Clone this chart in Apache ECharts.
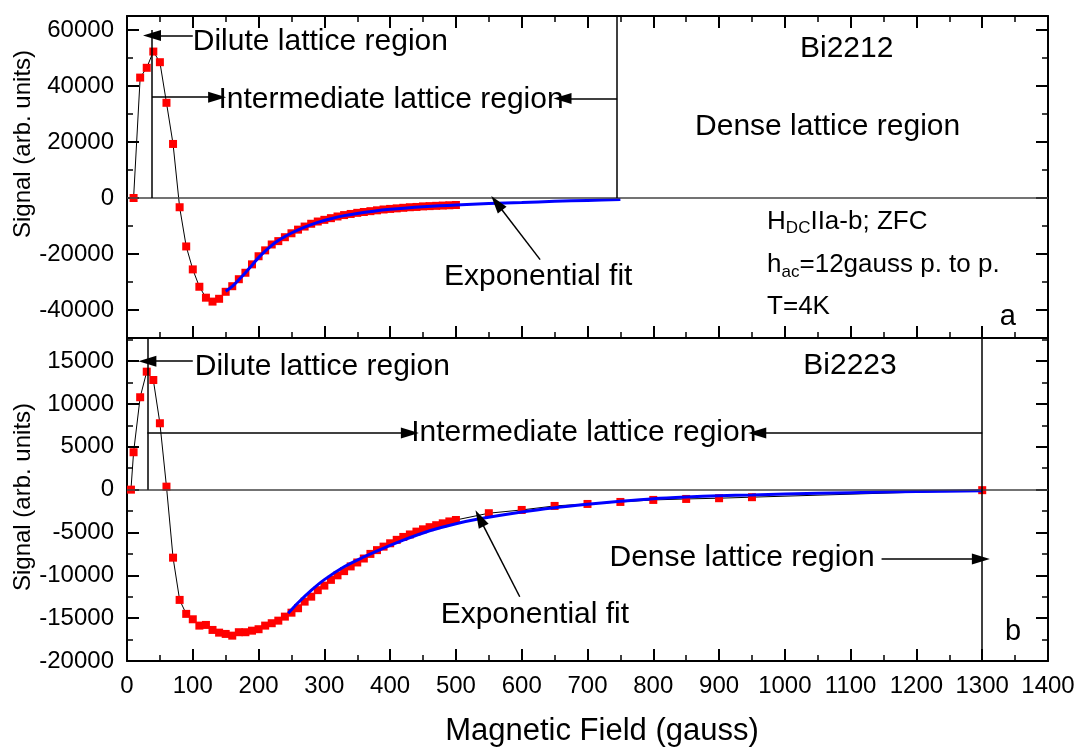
<!DOCTYPE html>
<html><head><meta charset="utf-8">
<script src="https://cdn.jsdelivr.net/npm/echarts@6/dist/echarts.min.js"></script>
<style>html,body{margin:0;padding:0;background:#fff}#c{width:1080px;height:748px}</style>
</head><body><div id="c"></div>
<script>
const FONT = '"Liberation Sans", Arial, Helvetica, sans-serif';

// ---- Panel a: Bi2212 ----
const fieldA = [10,20,30,40,50,60,70,80,90,100,110,120,130,140,150,160,170,180,190,200,210,220,230,240,250,260,270,280,290,300,310,320,330,340,350,360,370,380,390,400,410,420,430,440,450,460,470,480,490,500];
const signalA = [0,43000,46500,52300,48500,34000,19300,-3300,-17300,-25500,-31700,-35600,-37000,-36000,-33500,-31500,-29000,-26700,-23700,-20800,-18700,-16600,-15400,-14000,-12600,-11300,-10200,-9200,-8400,-7800,-7200,-6600,-6100,-5700,-5300,-5000,-4700,-4400,-4100,-3900,-3700,-3500,-3300,-3200,-3000,-2900,-2800,-2700,-2600,-2500];
const fitFieldA = [150,160,170,180,190,200,210,220,230,240,250,270,290,310,330,350,375,400,425,450,475,500,550,600,650,700,750];
const fitSignalA = [-33300,-31600,-29200,-26700,-24000,-21300,-19000,-16900,-15200,-13800,-12500,-10400,-8700,-7400,-6300,-5500,-4700,-4050,-3550,-3150,-2800,-2500,-2000,-1600,-1200,-850,-500];

// ---- Panel b: Bi2223 ----
const fieldB = [6,10,20,30,40,50,60,70,80,90,100,110,120,130,140,150,160,170,180,190,200,210,220,230,240,250,260,270,280,290,300,310,320,330,340,350,360,370,380,390,400,410,420,430,440,450,460,470,480,490,500,550,600,650,700,750,800,850,900,950,1300];
const signalB = [0,4365,10785,13770,12800,7750,350,-7940,-12870,-14500,-15130,-15870,-15790,-16375,-16690,-16840,-17040,-16640,-16640,-16460,-16290,-15870,-15590,-15290,-14820,-14360,-13840,-13070,-12490,-11730,-11200,-10530,-10000,-9510,-8960,-8500,-8040,-7500,-7060,-6650,-6260,-5860,-5520,-5230,-4900,-4630,-4380,-4150,-3930,-3710,-3540,-2750,-2370,-1900,-1670,-1435,-1200,-1085,-1000,-880,-60];
const fitFieldB = [245,260,280,300,330,360,385,420,460,500,536,600,650,700,750,800,850,900,950,1000,1100,1200,1300];
const fitSignalB = [-14430,-13200,-11750,-10500,-9000,-7850,-7000,-5900,-4800,-3980,-3400,-2600,-2100,-1700,-1350,-1050,-860,-720,-620,-520,-350,-220,-120];

// ---- tick labels ----
const xTicks = [0,100,200,300,400,500,600,700,800,900,1000,1100,1200,1300,1400];
const yTicksA = [-40000,-20000,0,20000,40000,60000];
const yTicksB = [-20000,-15000,-10000,-5000,0,5000,10000,15000];

const zip = (a, b) => a.map((v, i) => [v, b[i]]);
const plain = (v) => String(v);

const chart = echarts.init(document.getElementById('c'), null, {renderer: 'canvas'});

const black = '#000';
function xAxis(grid, pos, showLabels, showTicks) {
  return {
    type: 'value', gridIndex: grid, position: pos, min: 0, max: 1400, interval: 100,
    axisLine: {show: true, onZero: false, lineStyle: {color: black, width: 2}},
    axisTick: {show: showTicks, inside: true, length: 12, lineStyle: {color: black, width: 2}},
    minorTick: {show: showTicks, splitNumber: 2, length: 6, lineStyle: {color: black, width: 1.5}},
    axisLabel: {show: showLabels, customValues: xTicks, formatter: plain, fontFamily: FONT, fontSize: 24, color: black, margin: 13},
    splitLine: {show: false}, minorSplitLine: {show: false}
  };
}
function yMajor(grid, pos, min, max, ticks, showLabels) {
  return {
    type: 'value', gridIndex: grid, position: pos, min: min, max: max,
    axisLine: {show: true, onZero: false, lineStyle: {color: black, width: 2}},
    axisTick: {show: true, inside: true, length: 12, customValues: ticks, lineStyle: {color: black, width: 2}},
    axisLabel: {show: showLabels, customValues: ticks, formatter: plain, fontFamily: FONT, fontSize: 24, color: black, margin: 13},
    splitLine: {show: false}
  };
}
function yMinor(grid, pos, min, max, step) {
  return {
    type: 'value', gridIndex: grid, position: pos, min: min, max: max, interval: step,
    axisLine: {show: false, onZero: false},
    axisTick: {show: true, inside: true, length: 6, lineStyle: {color: black, width: 1.5}},
    axisLabel: {show: false},
    splitLine: {show: false}
  };
}

const lineStyleAnn = {color: black, width: 1.5, type: 'solid'};
const zeroStyle = {color: '#444', width: 1.5, type: 'solid'};
const arrowEnd = (c) => ({coord: c, symbol: 'triangle', symbolSize: [11, 18]});

const txt = (coord, text, align, size) => ({
  coord: coord,
  label: {show: true, position: 'inside', formatter: text, align: align || 'left', verticalAlign: 'middle',
          color: black, fontFamily: FONT, fontSize: size || 30}
});

const richSub = {
  n: {fontFamily: FONT, fontSize: 26, color: black},
  s: {fontFamily: FONT, fontSize: 17, color: black, padding: [14, 0, 0, 0]}
};

function markPointCfg(items) {
  return {
    symbol: 'circle', symbolSize: 1, silent: true, animation: false,
    itemStyle: {color: 'rgba(0,0,0,0)'},
    label: {show: true, color: black},
    emphasis: {disabled: true},
    data: items
  };
}

const option = {
  animation: false,
  backgroundColor: '#fff',
  grid: [
    {left: 127, top: 16, width: 921, height: 322, containLabel: false},
    {left: 127, top: 338, width: 921, height: 323, containLabel: false}
  ],
  xAxis: [
    xAxis(0, 'bottom', false, true),
    xAxis(0, 'top', false, true),
    xAxis(1, 'bottom', true, true),
    xAxis(1, 'top', false, false)
  ],
  yAxis: [
    yMajor(0, 'left', -50000, 65000, yTicksA, true),
    yMinor(0, 'left', -50000, 65000, 10000),
    yMajor(0, 'right', -50000, 65000, yTicksA, false),
    yMinor(0, 'right', -50000, 65000, 10000),
    yMajor(1, 'left', -20000, 17700, yTicksB, true),
    yMinor(1, 'left', -20000, 17700, 2500),
    yMajor(1, 'right', -20000, 17700, yTicksB, false),
    yMinor(1, 'right', -20000, 17700, 2500)
  ],
  graphic: [
    {type: 'text', x: 23, y: 144, rotation: Math.PI / 2,
     style: {text: 'Signal (arb. units)', font: '24px ' + FONT, fill: black, textAlign: 'center', textVerticalAlign: 'middle'}},
    {type: 'text', x: 23, y: 497, rotation: Math.PI / 2,
     style: {text: 'Signal (arb. units)', font: '24px ' + FONT, fill: black, textAlign: 'center', textVerticalAlign: 'middle'}},
    {type: 'text', x: 602, y: 731,
     style: {text: 'Magnetic Field (gauss)', font: '31px ' + FONT, fill: black, textAlign: 'center', textVerticalAlign: 'middle'}}
  ],
  series: [
    {
      name: 'Bi2212', type: 'line', xAxisIndex: 0, yAxisIndex: 0,
      data: zip(fieldA, signalA),
      symbol: 'rect', symbolSize: 8, showSymbol: true,
      itemStyle: {color: '#ff0000'},
      lineStyle: {color: black, width: 1},
      z: 3,
      markLine: {
        silent: true, animation: false, symbol: ['none', 'none'], symbolSize: [11, 18],
        label: {show: false}, emphasis: {disabled: true},
        lineStyle: lineStyleAnn,
        data: [
          [{coord: [0, 0], lineStyle: zeroStyle}, {coord: [1400, 0]}],
          [{coord: [38, 0]}, {coord: [38, 60000]}],
          [{coord: [100, 58000]}, arrowEnd([38, 58000])],
          [{coord: [38, 36000]}, arrowEnd([137, 36000])],
          [{coord: [745, 35500]}, arrowEnd([662, 35500])],
          [{coord: [745, 0]}, {coord: [745, 65000]}],
          [{coord: [628, -22000]}, arrowEnd([562, -1800])]
        ]
      },
      markPoint: markPointCfg([
        txt([100, 55800], 'Dilute lattice region'),
        txt([139, 35000], 'Intermediate lattice region'),
        txt([1094, 53200], 'Bi2212', 'center'),
        txt([1065, 25500], 'Dense lattice region', 'center'),
        {coord: [973, -8500], label: {show: true, position: 'inside', align: 'left', verticalAlign: 'middle',
          formatter: '{n|H}{s|DC}{n|IIa-b; ZFC}', rich: richSub}},
        {coord: [973, -24000], label: {show: true, position: 'inside', align: 'left', verticalAlign: 'middle',
          formatter: '{n|h}{s|ac}{n|=12gauss p. to p.}', rich: richSub}},
        txt([973, -38800], 'T=4K', 'left', 26),
        txt([1339, -42400], 'a', 'center', 29),
        txt([625, -28200], 'Exponential fit', 'center')
      ])
    },
    {
      name: 'fitA', type: 'line', xAxisIndex: 0, yAxisIndex: 0,
      data: zip(fitFieldA, fitSignalA), showSymbol: false, smooth: 0.3,
      lineStyle: {color: '#0000ff', width: 3}, z: 4
    },
    {
      name: 'Bi2223', type: 'line', xAxisIndex: 2, yAxisIndex: 4,
      data: zip(fieldB, signalB),
      symbol: 'rect', symbolSize: 8, showSymbol: true,
      itemStyle: {color: '#ff0000'},
      lineStyle: {color: black, width: 1},
      z: 3,
      markLine: {
        silent: true, animation: false, symbol: ['none', 'none'], symbolSize: [11, 18],
        label: {show: false}, emphasis: {disabled: true},
        lineStyle: lineStyleAnn,
        data: [
          [{coord: [0, 0], lineStyle: zeroStyle}, {coord: [1400, 0]}],
          [{coord: [31, 0]}, {coord: [31, 17700]}],
          [{coord: [100, 15000]}, arrowEnd([31, 15000])],
          [{coord: [31, 6600]}, arrowEnd([430, 6600])],
          [{coord: [1300, 6600]}, arrowEnd([958, 6600])],
          [{coord: [1300, -20000]}, {coord: [1300, 17700]}],
          [{coord: [1147, -8100]}, arrowEnd([1298, -8100])],
          [{coord: [597, -12500]}, arrowEnd([536, -3350])]
        ]
      },
      markPoint: markPointCfg([
        txt([103, 14340], 'Dilute lattice region'),
        txt([432, 6700], 'Intermediate lattice region'),
        txt([1099, 14430], 'Bi2223', 'center'),
        txt([935, -7980], 'Dense lattice region', 'center'),
        txt([1347, -16600], 'b', 'center', 29),
        txt([620, -14600], 'Exponential fit', 'center')
      ])
    },
    {
      name: 'fitB', type: 'line', xAxisIndex: 2, yAxisIndex: 4,
      data: zip(fitFieldB, fitSignalB), showSymbol: false, smooth: 0.3,
      lineStyle: {color: '#0000ff', width: 3}, z: 4
    }
  ]
};
chart.setOption(option);
</script>
</body></html>
